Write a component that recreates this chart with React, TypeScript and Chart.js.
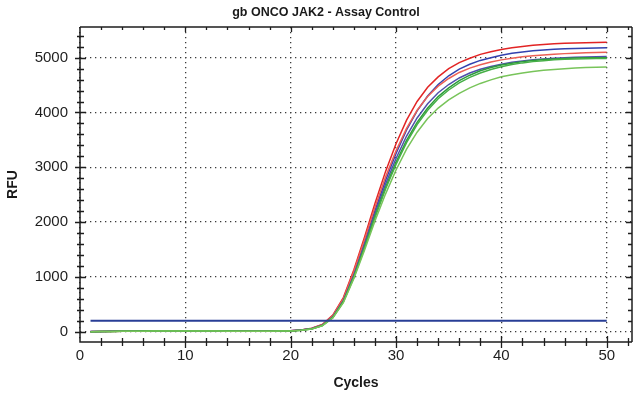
import React, { useEffect, useRef } from "react";
import { Chart, registerables } from "chart.js";

Chart.register(...registerables);

const chartTitle = "gb ONCO JAK2 - Assay Control";
const xTitle = "Cycles";
const yTitle = "RFU";

const cycles = [
  1, 2, 3, 4, 5, 6, 7, 8, 9, 10, 11, 12, 13, 14, 15, 16, 17, 18, 19, 20, 21, 22, 23, 24, 25,
  26, 27, 28, 29, 30, 31, 32, 33, 34, 35, 36, 37, 38, 39, 40, 41, 42, 43, 44, 45, 46, 47, 48, 49, 50,
];

const xTickValues = [0, 10, 20, 30, 40, 50];
const yTickValues = [0, 1000, 2000, 3000, 4000, 5000];

const thresholdCycles = [1, 50];
const thresholdValue = 200;

const redA = [
  -2, 1, 3, 5, 7, 9, 10, 11, 12, 12, 12, 11, 10, 9, 8, 8, 8, 9, 11, 16, 30, 60, 130, 300, 620,
  1130, 1720, 2340, 2920, 3430, 3860, 4200, 4460, 4650, 4800, 4910, 4990, 5060, 5110, 5150,
  5180, 5205, 5225, 5240, 5252, 5262, 5269, 5274, 5277, 5280,
];
const redB = [
  0, 2, 4, 6, 8, 9, 10, 11, 12, 12, 11, 11, 10, 9, 8, 8, 8, 9, 11, 15, 28, 56, 125, 290, 600,
  1100, 1670, 2270, 2820, 3300, 3710, 4040, 4290, 4480, 4620, 4730, 4810, 4870, 4920, 4960,
  4990, 5015, 5035, 5050, 5063, 5074, 5083, 5090, 5096, 5100,
];
const blueA = [
  0, 2, 4, 6, 8, 10, 11, 12, 12, 13, 12, 11, 10, 9, 8, 8, 8, 9, 11, 15, 28, 55, 120, 280, 580,
  1060, 1620, 2210, 2760, 3250, 3680, 4030, 4300, 4510, 4670, 4790, 4880, 4950, 5000, 5045,
  5080, 5105, 5125, 5140, 5152, 5161, 5168, 5173, 5177, 5180,
];
const blueB = [
  1, 3, 5, 7, 8, 10, 11, 11, 12, 12, 12, 11, 10, 9, 8, 7, 7, 8, 10, 14, 27, 52, 115, 270, 565,
  1030, 1580, 2160, 2690, 3160, 3570, 3900, 4160, 4360, 4510, 4630, 4720, 4790, 4840, 4880,
  4915, 4940, 4960, 4976, 4988, 4998, 5006, 5012, 5017, 5020,
];
const greenA = [
  -3, 0, 3, 5, 7, 9, 10, 11, 12, 12, 12, 11, 10, 9, 8, 7, 7, 8, 10, 13, 25, 50, 110, 260, 550,
  1000, 1540, 2110, 2630, 3090, 3490, 3820, 4080, 4290, 4450, 4580, 4680, 4760, 4820, 4865,
  4900, 4928, 4950, 4966, 4978, 4987, 4993, 4997, 4999, 5000,
];
const greenB = [
  -1, 1, 3, 5, 7, 8, 9, 10, 11, 11, 11, 10, 10, 9, 8, 7, 7, 8, 10, 13, 25, 49, 108, 255, 540,
  990, 1520, 2080, 2600, 3050, 3450, 3780, 4040, 4250, 4410, 4540, 4640, 4720, 4785, 4835,
  4875, 4905, 4928, 4946, 4960, 4970, 4977, 4981, 4984, 4985,
];
const greenC = [
  -2, 0, 2, 4, 6, 8, 9, 10, 11, 11, 11, 10, 9, 8, 8, 7, 7, 8, 9, 12, 24, 48, 105, 250, 530,
  970, 1480, 2020, 2510, 2950, 3330, 3640, 3890, 4080, 4230, 4350, 4450, 4530, 4595, 4650,
  4690, 4722, 4748, 4769, 4786, 4800, 4812, 4821, 4827, 4830,
];

const curves = [
  { values: greenC, color: "rgb(120,196,90)" },
  { values: greenB, color: "rgb(70,175,70)" },
  { values: greenA, color: "rgb(45,155,60)" },
  { values: blueB, color: "rgb(80,80,170)" },
  { values: redB, color: "rgb(236,95,85)" },
  { values: blueA, color: "rgb(50,65,175)" },
  { values: redA, color: "rgb(226,36,36)" },
];

const FONT = "'Liberation Sans', Arial, Helvetica, sans-serif";

const framePlugin = {
  id: "frameTicks",
  afterDatasetsDraw(chart: any) {
    const { ctx, chartArea: a, scales } = chart;
    const x = scales.x;
    const y = scales.y;
    ctx.save();
    ctx.strokeStyle = "#1e1e1e";
    ctx.lineWidth = 1.3;
    ctx.beginPath();
    for (let v = 200; v <= 5400; v += 200) {
      const p = Math.round(y.getPixelForValue(v)) + 0.5;
      const major = v % 1000 === 0;
      ctx.moveTo(a.left - (major ? 5 : 3), p);
      ctx.lineTo(a.left + (major ? 6 : 4), p);
      ctx.moveTo(a.right - (major ? 6 : 4), p);
      ctx.lineTo(a.right, p);
    }
    {
      const p = Math.round(y.getPixelForValue(0)) + 0.5;
      ctx.moveTo(a.left - 5, p);
      ctx.lineTo(a.left + 6, p);
    }
    for (let v = 2; v <= 52; v += 2) {
      const p = Math.round(x.getPixelForValue(v)) + 0.5;
      const major = v % 10 === 0;
      ctx.moveTo(p, a.bottom + (major ? 6 : 4));
      ctx.lineTo(p, a.bottom - (major ? 6 : 4));
      ctx.moveTo(p, a.top);
      ctx.lineTo(p, a.top + (major ? 5 : 3));
    }
    ctx.stroke();
    ctx.lineWidth = 1.5;
    ctx.beginPath();
    ctx.moveTo(a.left, a.top);
    ctx.lineTo(a.right, a.top);
    ctx.moveTo(a.left, a.top);
    ctx.lineTo(a.left, a.bottom);
    ctx.lineTo(a.right, a.bottom);
    ctx.moveTo(a.right, a.top);
    ctx.lineTo(a.right, a.bottom);
    ctx.stroke();
    ctx.restore();
  },
  afterDraw(chart: any) {
    const { ctx } = chart;
    ctx.save();
    ctx.fillStyle = "#1a1a1a";
    ctx.font = `bold 12.5px ${FONT}`;
    ctx.textAlign = "center";
    ctx.textBaseline = "middle";
    ctx.fillText(chartTitle, 326, 13);
    ctx.restore();
  },
};

export default function App() {
  const ref = useRef<HTMLCanvasElement | null>(null);
  useEffect(() => {
    if (!ref.current) return;
    const datasets: any[] = [
      {
        label: "Threshold",
        data: thresholdCycles.map((c) => ({ x: c, y: thresholdValue })),
        borderColor: "rgb(40,62,150)",
        borderWidth: 2,
        pointRadius: 0,
        fill: false,
      },
      ...curves.map((c, i) => ({
        label: "Well " + (i + 1),
        data: cycles.map((cy, j) => ({ x: cy, y: c.values[j] })),
        borderColor: c.color,
        borderWidth: 1.5,
        pointRadius: 0,
        fill: false,
        tension: 0,
      })),
    ];
    const chart = new Chart(ref.current, {
      type: "line",
      data: { datasets },
      options: {
        animation: false,
        responsive: false,
        maintainAspectRatio: false,
        layout: { padding: { top: 27, right: 1, left: 0, bottom: 0 } },
        plugins: { legend: { display: false }, title: { display: false }, tooltip: { enabled: false } },
        scales: {
          x: {
            type: "linear",
            min: 0,
            max: 52.4,
            afterFit: (s: any) => {
              s.height = 54;
            },
            afterBuildTicks: (s: any) => {
              s.ticks = xTickValues.map((v) => ({ value: v }));
            },
            grid: { color: "#3a3a3a", lineWidth: 1.3, drawTicks: false },
            border: { display: false, dash: [1.3, 3.7] },
            ticks: {
              color: "#1e1e1e",
              font: { family: FONT, size: 15 },
              padding: 5,
              maxRotation: 0,
              callback: (v: any) => String(v),
            },
            title: {
              display: true,
              text: xTitle,
              color: "#1a1a1a",
              font: { family: FONT, size: 14, weight: "bold" },
              padding: { top: 4, bottom: 4 },
            },
          },
          y: {
            type: "linear",
            min: -190,
            max: 5560,
            afterFit: (s: any) => {
              s.width = 80;
            },
            afterBuildTicks: (s: any) => {
              s.ticks = yTickValues.map((v) => ({ value: v }));
            },
            grid: { color: "#3a3a3a", lineWidth: 1.3, drawTicks: false },
            border: { display: false, dash: [1.3, 3.7] },
            ticks: {
              color: "#1e1e1e",
              font: { family: FONT, size: 15 },
              padding: 12,
              callback: (v: any) => String(v),
            },
            title: {
              display: true,
              text: yTitle,
              color: "#1a1a1a",
              font: { family: FONT, size: 14, weight: "bold" },
              padding: { top: 5, bottom: 0 },
            },
          },
        },
      },
      plugins: [framePlugin],
    } as any);
    return () => chart.destroy();
  }, []);
  return (
    <div style={{ position: "fixed", left: 0, top: 0, width: 633, height: 396, background: "#fff" }}>
      <canvas ref={ref} width={633} height={396} style={{ display: "block" }} />
    </div>
  );
}
